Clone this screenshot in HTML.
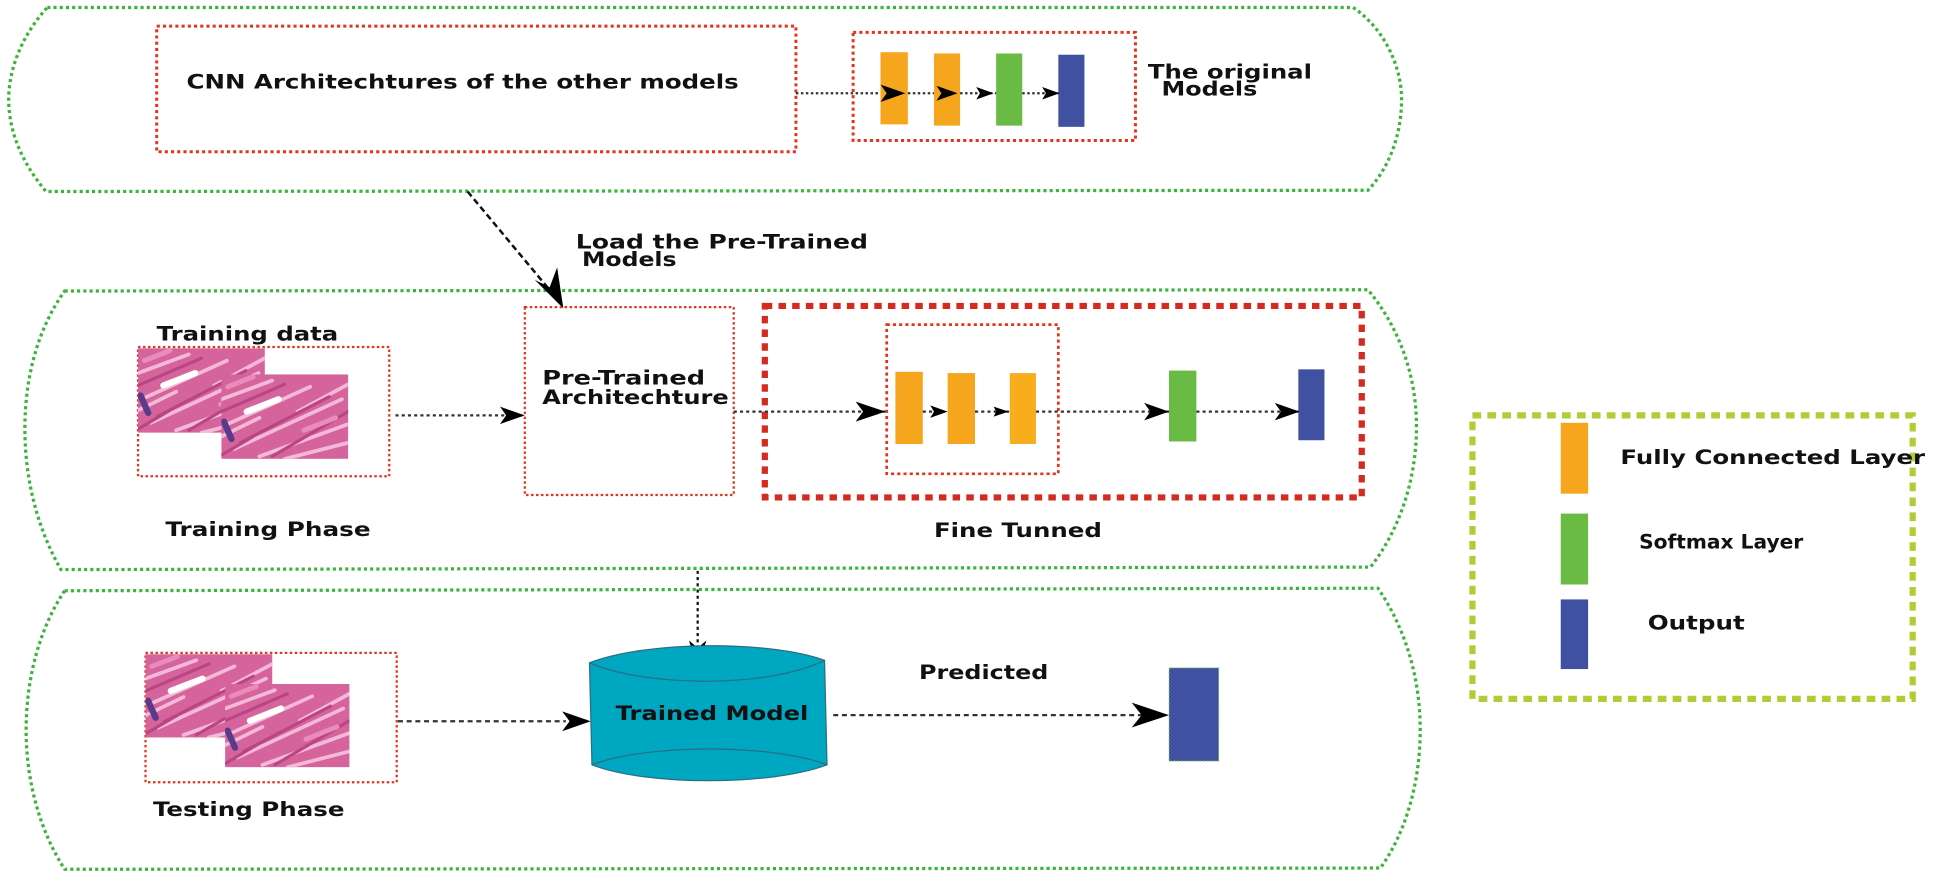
<!DOCTYPE html>
<html><head><meta charset="utf-8"><style>
html,body{margin:0;padding:0;background:#fff;}
svg{display:block;}
text{font-family:"DejaVu Sans","Liberation Sans",sans-serif;font-weight:bold;font-size:16px;fill:#111;}
</style></head><body>
<svg width="1950" height="876" viewBox="0 0 1568 704.4" preserveAspectRatio="none" xmlns="http://www.w3.org/2000/svg">
<defs>
<symbol id="tissue" viewBox="0 0 100 68" preserveAspectRatio="none">
<rect width="100" height="68" fill="#d6649c"/>
<g stroke-linecap="round">
<path d="M0,20 L40,5 M5,40 L70,10 M10,60 L95,20 M30,66 L100,40 M50,68 L100,55 M0,50 L30,35 M60,30 L100,8" stroke="#f3b9d6" stroke-width="3"/>
<path d="M0,30 L50,8 M15,55 L85,18 M40,66 L100,30 M0,65 L25,50" stroke="#b94583" stroke-width="2.5"/>
<path d="M20,30 L45,20" stroke="#fff" stroke-width="5"/>
<path d="M2,38 L8,52" stroke="#5a3a8a" stroke-width="5"/>
<path d="M65,45 L90,35 M5,10 L25,2" stroke="#e98bbb" stroke-width="4"/>
</g>
</symbol>
</defs>

<g fill="none" stroke="#3cb33c" stroke-width="2.6" stroke-dasharray="2.5 2.5">
<path d="M38,6 L1088,6 C1112,22 1127,52 1127,80 C1127,110 1116,136 1100,153 L37,154 C17,130 7,105 7,80 C7,55 18,28 38,6 Z"/>
<path d="M52,234 L1100,233 C1124,262 1139,300 1139,343 C1139,388 1124,428 1102,456 L49,458 C30,425 20,385 20,345 C20,300 32,262 52,234 Z"/>
<path d="M52,475 L1108,473 C1130,505 1142,545 1142,587 C1142,630 1130,670 1110,698 L52,699 C32,668 21,628 21,587 C21,545 32,505 52,475 Z"/>
</g>

<rect x="126" y="21" width="514" height="101" fill="none" stroke="#e0361f" stroke-width="2.4" stroke-dasharray="2.5 2.5"/>
<text x="150" y="71" textLength="444" lengthAdjust="spacingAndGlyphs">CNN Architechtures of the other models</text>
<rect x="686" y="26" width="227" height="87" fill="none" stroke="#e0361f" stroke-width="2.4" stroke-dasharray="2.5 2.5"/>
<rect x="708" y="42" width="22" height="58" fill="#f6a61c"/>
<rect x="751" y="43" width="21" height="58" fill="#f6a61c"/>
<rect x="801" y="43" width="21" height="58" fill="#69bb43"/>
<rect x="851" y="44" width="21" height="58" fill="#3f51a0"/>
<g stroke="#333" stroke-width="1.8" stroke-dasharray="2 2">
<path d="M640,75 L708,75 M730,75 L751,75 M772,75 L801,75 M822,75 L851,75"/>
</g>
<g fill="#000">
<path d="M728,75 L708,68 L713,75 L708,82 Z"/>
<path d="M770,75 L753,69 L757,75 L753,81 Z"/>
<path d="M799,75 L785,70 L788,75 L785,80 Z"/>
<path d="M852,75 L838,70 L841,75 L838,80 Z"/>
</g>
<text x="923" y="63" textLength="132" lengthAdjust="spacingAndGlyphs">The original</text>
<text x="934" y="77" textLength="77" lengthAdjust="spacingAndGlyphs">Models</text>

<path d="M376,154 L446,238" stroke="#111" stroke-width="2" stroke-dasharray="5 3" fill="none"/>
<path d="M453,248 L430,225 L442,231 L448,215 Z" fill="#000"/>
<text x="463" y="200" textLength="235" lengthAdjust="spacingAndGlyphs">Load the Pre-Trained</text>
<text x="468" y="214" textLength="76" lengthAdjust="spacingAndGlyphs">Models</text>

<text x="126" y="274" textLength="146" lengthAdjust="spacingAndGlyphs">Training data</text>
<rect x="111" y="279" width="202" height="104" fill="none" stroke="#e0361f" stroke-width="1.8" stroke-dasharray="2 2"/>
<use href="#tissue" x="111" y="280" width="102" height="68"/>
<use href="#tissue" x="178" y="301" width="102" height="68"/>
<rect x="422" y="247" width="168" height="151" fill="none" stroke="#e0361f" stroke-width="1.8" stroke-dasharray="2 2"/>
<text x="436" y="309" textLength="131" lengthAdjust="spacingAndGlyphs">Pre-Trained</text>
<text x="436" y="325" textLength="150" lengthAdjust="spacingAndGlyphs">Architechture</text>
<rect x="615" y="246" width="480" height="154" fill="none" stroke="#d42a20" stroke-width="5" stroke-dasharray="6 5"/>
<rect x="713" y="261" width="138" height="120" fill="none" stroke="#e0361f" stroke-width="2.2" stroke-dasharray="2.5 2.5"/>
<rect x="720" y="299" width="22" height="58" fill="#f6a61c"/>
<rect x="762" y="300" width="22" height="57" fill="#f6a61c"/>
<rect x="812" y="300" width="21" height="57" fill="#f8ad1c"/>
<rect x="940" y="298" width="22" height="57" fill="#69bb43"/>
<rect x="1044" y="297" width="21" height="57" fill="#3f51a0"/>
<g stroke="#333" stroke-width="1.8" stroke-dasharray="2.5 2.5">
<path d="M318,334 L420,334 M590,331 L712,331 M742,331 L762,331 M784,331 L812,331 M833,331 L940,331 M962,331 L1044,331"/>
</g>
<g fill="#000">
<path d="M422,334 L402,327 L407,334 L402,341 Z"/>
<path d="M712,331 L688,323 L694,331 L688,339 Z"/>
<path d="M762,331 L748,326 L751,331 L748,336 Z"/>
<path d="M811,331 L799,327 L801,331 L799,335 Z"/>
<path d="M940,331 L920,324 L925,331 L920,338 Z"/>
<path d="M1045,331 L1025,324 L1030,331 L1025,338 Z"/>
</g>
<text x="133" y="431" textLength="165" lengthAdjust="spacingAndGlyphs">Training Phase</text>
<text x="751" y="432" textLength="135" lengthAdjust="spacingAndGlyphs">Fine Tunned</text>

<path d="M561,459 L561,522" stroke="#111" stroke-width="1.8" stroke-dasharray="2.5 2.5"/>
<path d="M561,537 L554,515 L561,521 L568,515 Z" fill="#000"/>

<rect x="117" y="525" width="202" height="104" fill="none" stroke="#e0361f" stroke-width="1.8" stroke-dasharray="2 2"/>
<use href="#tissue" x="117" y="526" width="102" height="67"/>
<use href="#tissue" x="181" y="550" width="100" height="67"/>
<path d="M474,533 C520,515 620,515 663,531 L665,615 C620,632 520,632 476,615 Z" fill="#00a7c1" stroke="#2a6f80" stroke-width="1"/>
<path d="M474,533 C520,553 620,553 663,531" fill="none" stroke="#2a6f80" stroke-width="1"/>
<path d="M476,615 C520,598 620,598 665,615" fill="none" stroke="#2a6f80" stroke-width="1"/>
<text x="495" y="579" textLength="155" lengthAdjust="spacingAndGlyphs">Trained Model</text>
<g stroke="#333" stroke-width="1.8" stroke-dasharray="4 3">
<path d="M320,580 L455,580 M670,575 L920,575"/>
</g>
<g fill="#000">
<path d="M475,580 L452,572 L458,580 L452,588 Z"/>
<path d="M940,575 L910,565 L918,575 L910,585 Z"/>
</g>
<rect x="940" y="537" width="40" height="75" fill="#3f51a0" stroke="#8fcf5a" stroke-width="0.8" stroke-dasharray="1.5 1.5"/>
<text x="739" y="546" textLength="104" lengthAdjust="spacingAndGlyphs">Predicted</text>
<text x="123" y="656" textLength="154" lengthAdjust="spacingAndGlyphs">Testing Phase</text>

<rect x="1184" y="334" width="354" height="228" fill="none" stroke="#b1cc35" stroke-width="5" stroke-dasharray="7 5"/>
<rect x="1255" y="340" width="22" height="57" fill="#f6a61c"/>
<rect x="1255" y="413" width="22" height="57" fill="#69bb43"/>
<rect x="1255" y="482" width="22" height="56" fill="#3f51a0"/>
<text x="1303" y="373" textLength="245" lengthAdjust="spacingAndGlyphs">Fully Connected Layer</text>
<text x="1318" y="441" textLength="132" lengthAdjust="spacingAndGlyphs">Softmax Layer</text>
<text x="1325" y="506" textLength="78" lengthAdjust="spacingAndGlyphs">Output</text>
</svg>
</body></html>
